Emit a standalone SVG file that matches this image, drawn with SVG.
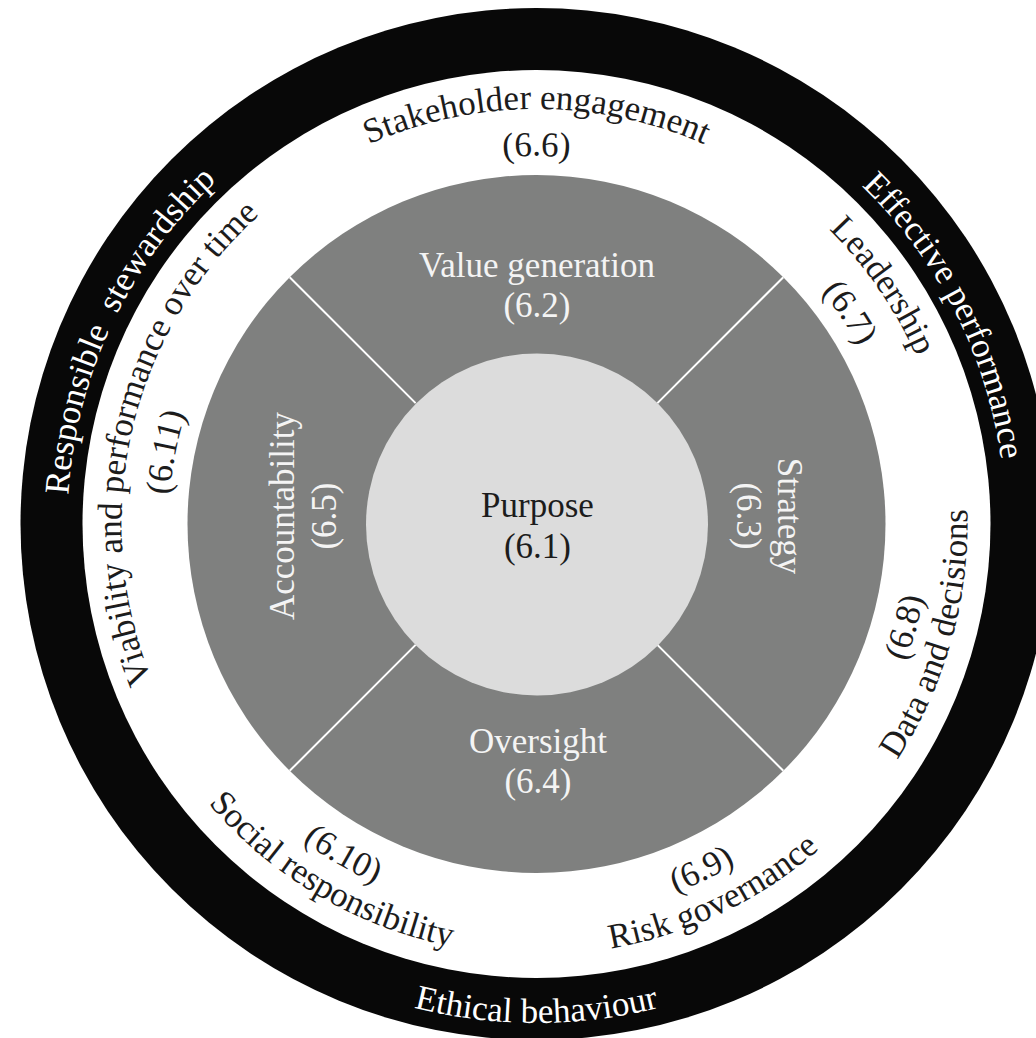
<svg xmlns="http://www.w3.org/2000/svg" width="1036" height="1038" viewBox="0 0 1036 1038">
<style>
  text { font-family: "Liberation Serif", "Times New Roman", serif; font-size: 35px; text-anchor: middle; }
  .dark { fill: #1c1c1c; }
  .soft { fill: #f4f4f4; }
  .white { fill: #ffffff; }
  .divider { stroke: #ffffff; stroke-width: 2; fill: none; }
</style>
<defs>
  <!-- outward-facing arcs centred at the top (clockwise) -->
  <path id="o415" d="M 121.5 524 A 415 415 0 0 1 951.5 524"/>
  <path id="o368" d="M 168.5 524 A 368 368 0 0 1 904.5 524"/>
  <path id="o469" d="M 67.5 524 A 469 469 0 0 1 1005.5 524"/>
  <!-- inward-facing arcs centred at the bottom (counter-clockwise) -->
  <path id="i431" d="M 105.5 524 A 431 431 0 0 0 967.5 524"/>
  <path id="i394" d="M 142.5 524 A 394 394 0 0 0 930.5 524"/>
  <path id="i499" d="M 37.5 524 A 499 499 0 0 0 1035.5 524"/>
</defs>
<rect width="1036" height="1038" fill="#ffffff"/>

<g id="outer-ring">
  <circle cx="536.5" cy="524" r="516" fill="#080808"/>
  <circle cx="536.5" cy="524" r="454" fill="#ffffff"/>
</g>
<g id="middle-disc">
  <circle cx="536.5" cy="524" r="349" fill="#7f807f"/>
</g>

<g id="dividers">
  <line class="divider" x1="657.4" y1="403.1" x2="783.3" y2="277.2"/>
  <line class="divider" x1="657.4" y1="644.9" x2="783.3" y2="770.8"/>
  <line class="divider" x1="415.6" y1="644.9" x2="289.7" y2="770.8"/>
  <line class="divider" x1="415.6" y1="403.1" x2="289.7" y2="277.2"/>
</g>

<g id="purpose">
  <circle cx="537" cy="524.5" r="171" fill="#dcdcdc"/>
  <text class="dark" x="537.5" y="517">Purpose</text>
  <text class="dark" x="537.5" y="558">(6.1)</text>
</g>

<g id="value-generation">
  <text class="soft" x="537" y="277">Value generation</text>
  <text class="soft" x="537" y="317">(6.2)</text>
</g>
<g id="strategy">
  <text class="soft" transform="translate(778 516) rotate(90)">Strategy</text>
  <text class="soft" transform="translate(737 516) rotate(90)">(6.3)</text>
</g>
<g id="oversight">
  <text class="soft" x="538" y="753">Oversight</text>
  <text class="soft" x="538" y="793">(6.4)</text>
</g>
<g id="accountability">
  <text class="soft" transform="translate(294 516) rotate(-90)">Accountability</text>
  <text class="soft" transform="translate(336 516) rotate(-90)">(6.5)</text>
</g>

<g id="stakeholder-engagement">
  <text class="dark"><textPath href="#o415" startOffset="50%">Stakeholder engagement</textPath></text>
  <text class="dark"><textPath href="#o368" startOffset="50%">(6.6)</textPath></text>
</g>
<g id="leadership">
  <text class="dark" transform="rotate(55.5 536.5 524)"><textPath href="#o415" startOffset="50%">Leadership</textPath></text>
  <text class="dark" transform="rotate(56 536.5 524)"><textPath href="#o368" startOffset="50%">(6.7)</textPath></text>
</g>
<g id="data-and-decisions">
  <text class="dark" transform="rotate(-74.4 536.5 524)"><textPath href="#i394" startOffset="50%">(6.8)</textPath></text>
  <text class="dark" transform="rotate(-74.4 536.5 524)"><textPath href="#i431" startOffset="50%">Data and decisions</textPath></text>
</g>
<g id="risk-governance">
  <text class="dark" transform="rotate(-25.5 536.5 524)"><textPath href="#i394" startOffset="50%">(6.9)</textPath></text>
  <text class="dark" transform="rotate(-25.5 536.5 524)"><textPath href="#i431" startOffset="50%">Risk governance</textPath></text>
</g>
<g id="social-responsibility">
  <text class="dark" transform="rotate(30.3 536.5 524)"><textPath href="#i394" startOffset="50%">(6.10)</textPath></text>
  <text class="dark" transform="rotate(30.5 536.5 524)"><textPath href="#i431" startOffset="50%">Social responsibility</textPath></text>
</g>
<g id="viability">
  <text class="dark" transform="rotate(-77 536.5 524)"><textPath href="#o415" startOffset="50%">Viability and performance over time</textPath></text>
  <text class="dark" transform="rotate(-79 536.5 524)"><textPath href="#o368" startOffset="50%">(6.11)</textPath></text>
</g>

<g id="effective-performance">
  <text class="white" transform="rotate(63 536.5 524)"><textPath href="#o469" startOffset="50%">Effective performance</textPath></text>
</g>
<g id="responsible-stewardship">
  <text class="white" word-spacing="9" transform="rotate(-64.7 536.5 524)"><textPath href="#o469" startOffset="50%">Responsible stewardship</textPath></text>
</g>
<g id="ethical-behaviour">
  <text class="white"><textPath href="#i499" startOffset="50%">Ethical behaviour</textPath></text>
</g>
</svg>
